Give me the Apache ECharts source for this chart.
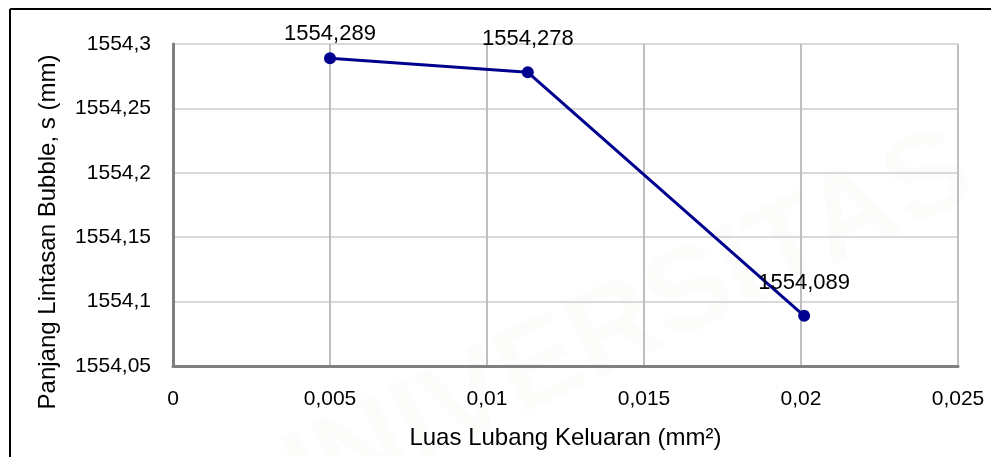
<!DOCTYPE html>
<html>
<head>
<meta charset="utf-8">
<script src="https://cdn.jsdelivr.net/npm/echarts@6/dist/echarts.min.js"></script>
<style>
  html, body { margin: 0; padding: 0; background: #fff; }
  #chart { width: 991px; height: 457px; }
</style>
</head>
<body>
<div id="chart"></div>
<script>
// luas lubang keluaran (mm2) vs panjang lintasan bubble (mm)
const luasLubang = [0.005, 0.0113, 0.0201]
const panjangLintasan = [1554.289, 1554.278, 1554.089]
const xTicks = { min: 0, max: 0.025, interval: 0.005 }
const yTicks = { min: 1554.05, max: 1554.3, interval: 0.05 }
const xName = 'Luas Lubang Keluaran (mm²)'
const yName = 'Panjang Lintasan Bubble, s (mm)'

const font = 'Liberation Sans'
const comma = (v, d) => String(Number(v.toFixed(d))).replace('.', ',')

const chart = echarts.init(document.getElementById('chart'))

chart.setOption({
  animation: false,
  backgroundColor: '#ffffff',
  textStyle: { fontFamily: font },
  graphic: [
    {
      type: 'text',
      left: 220, top: 110, rotation: Math.PI / 7, z: -10,
      style: { text: 'UNIVERSITAS', fontSize: 120, fontWeight: 'bold', fill: 'rgba(190,190,160,0.05)', fontFamily: font }
    },
    { type: 'line', shape: { x1: 10, y1: 9, x2: 991, y2: 9 }, style: { stroke: '#000', lineWidth: 2 } },
    { type: 'line', shape: { x1: 10, y1: 9, x2: 10, y2: 457 }, style: { stroke: '#000', lineWidth: 2 } }
  ],
  grid: { left: 173, right: 33, top: 44, bottom: 91 },
  xAxis: {
    type: 'value',
    min: xTicks.min,
    max: xTicks.max,
    interval: xTicks.interval,
    name: xName,
    nameLocation: 'middle',
    nameGap: 60,
    nameTextStyle: { fontSize: 24, color: '#000', fontFamily: font },
    axisLine: { show: true, onZero: false, lineStyle: { color: '#808080', width: 3 } },
    axisTick: { show: false },
    axisLabel: {
      margin: 23, fontSize: 21, color: '#000', fontFamily: font,
      formatter: v => comma(v, 3)
    },
    splitLine: { show: true, lineStyle: { color: '#bfbfbf', width: 2 } }
  },
  yAxis: {
    type: 'value',
    min: yTicks.min,
    max: yTicks.max,
    interval: yTicks.interval,
    name: yName,
    nameLocation: 'middle',
    nameGap: 113,
    nameTextStyle: { fontSize: 24, color: '#000', fontFamily: font, padding: [0, 54, 0, 0] },
    axisLine: { show: true, lineStyle: { color: '#7f7f7f', width: 3 } },
    axisTick: { show: false },
    axisLabel: {
      margin: 22, fontSize: 21, color: '#000', fontFamily: font,
      formatter: v => comma(v, 2)
    },
    splitLine: { show: true, lineStyle: { color: '#d9d9d9', width: 2 } }
  },
  series: [{
    type: 'line',
    data: luasLubang.map((x, i) => ({
      value: [x, panjangLintasan[i]],
      label: i === 0 ? { distance: 7 } : undefined
    })),
    symbol: 'circle',
    symbolSize: 12,
    lineStyle: { color: '#00008f', width: 3 },
    itemStyle: { color: '#00008f' },
    label: {
      show: true,
      position: 'top',
      distance: 16,
      fontSize: 22,
      color: '#000',
      fontFamily: font,
      formatter: p => comma(p.value[1], 3)
    }
  }]
})
</script>
</body>
</html>
